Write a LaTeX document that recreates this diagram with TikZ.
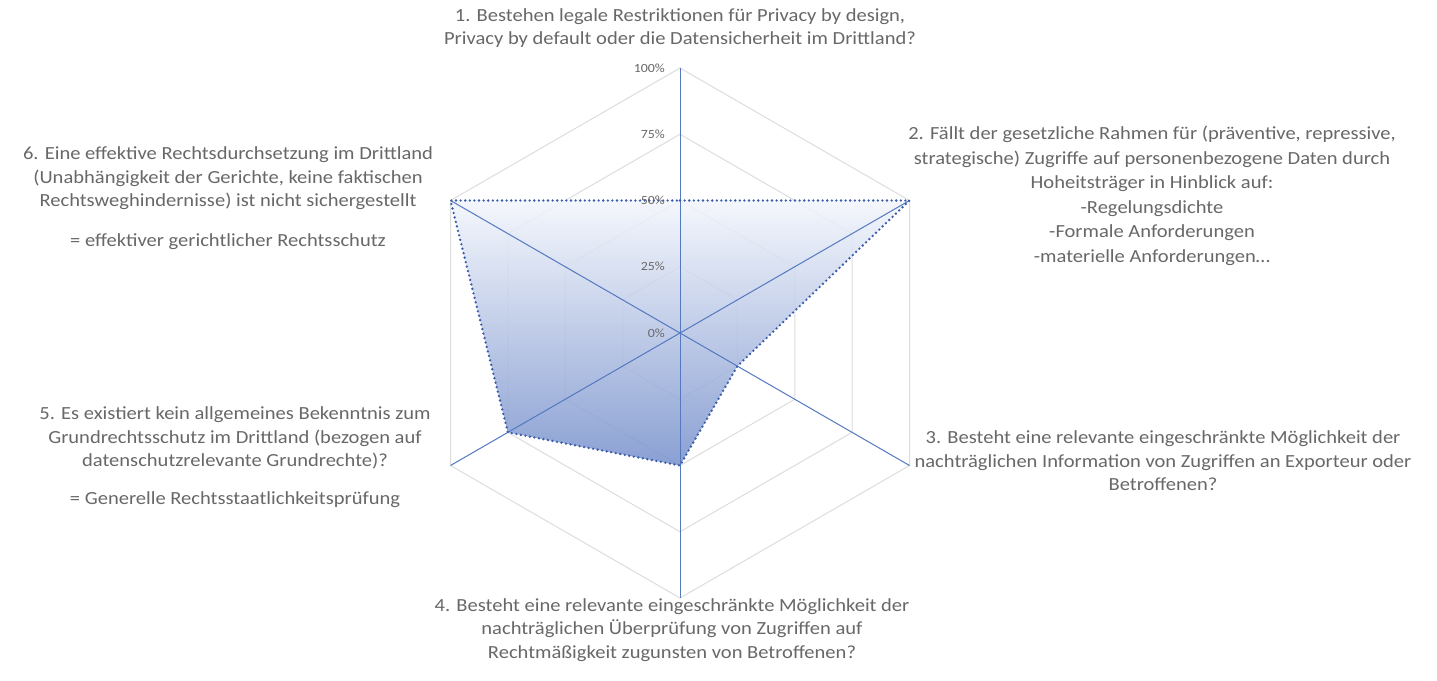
\documentclass[tikz,border=0pt]{standalone}
\usepackage{fontspec}
\setmainfont{Carlito}[FakeStretch=1.11]
\definecolor{txtgray}{HTML}{686868}
\definecolor{gridgray}{HTML}{DDDDDD}
\definecolor{spokeblue}{HTML}{5479C0}
\definecolor{serblue}{HTML}{3A5BA8}
\definecolor{filltop}{HTML}{F3F6FC}
\definecolor{fillbot}{HTML}{7690CC}
\begin{document}
\begin{tikzpicture}[x=1pt,y=-1pt,
  lbl/.style={text=txtgray, align=center, font=\fontsize{18.5}{23.5}\selectfont, inner sep=0pt},
  pct/.style={text=txtgray, font=\fontsize{12.5}{14}\selectfont, anchor=east, inner sep=0pt},
  gridline/.style={draw=gridgray, line width=1pt},
  spoke/.style={draw=spokeblue, line width=1pt},
  series/.style={draw=serblue, line width=2.6pt, line cap=round, dash pattern=on 0pt off 4.6pt}]
\useasboundingbox (0,0) rectangle (1437,680);
\fill[white] (0,0) rectangle (1437,680);
\begin{scope}[shift={(680,333)}]
  \coordinate (c) at (0,0);
  \foreach \k/\a in {1/-90,2/-30,3/30,4/90,5/150,6/210}
    \coordinate (v\k) at (\a:265);
  % grid
  \foreach \r in {66.25,132.5,198.75,265}
    \draw[gridline] (-90:\r) -- (-30:\r) -- (30:\r) -- (90:\r) -- (150:\r) -- (210:\r) -- cycle;
  % data points
  \coordinate (p1) at (-90:132.5);
  \coordinate (p2) at (-30:265);
  \coordinate (p3) at (30:66.25);
  \coordinate (p4) at (90:132.5);
  \coordinate (p5) at (150:198.75);
  \coordinate (p6) at (210:265);
  \shade[top color=filltop, bottom color=fillbot, opacity=0.85]
    (p1) -- (p2) -- (p3) -- (p4) -- (p5) -- (p6) -- cycle;
  % spokes
  \foreach \k in {1,...,6} \draw[spoke] (c) -- (v\k);
  % series outline
  \draw[series] (p1) -- (p2) -- (p3) -- (p4) -- (p5) -- (p6) -- cycle;
  % percent labels
  \node[pct] (l0) at (-15,0) {0\%};
  \node[pct] (l25) at (-15,-66.25) {25\%};
  \node[pct] (l50) at (-15,-132.5) {50\%};
  \node[pct] (l75) at (-15,-198.75) {75\%};
  \node[pct] (l100) at (-15,-265) {100\%};
\end{scope}
\node[lbl] (t1) at (680,28) {1. Bestehen legale Restriktionen für Privacy by design,\\Privacy by default oder die Datensicherheit im Drittland?};
\node[lbl, font=\fontsize{18.5}{24.5}\selectfont] (t2) at (1152,196) {2. Fällt der gesetzliche Rahmen für (präventive, repressive,\\strategische) Zugriffe auf personenbezogene Daten durch\\Hoheitsträger in Hinblick auf:\\-Regelungsdichte\\-Formale Anforderungen\\-materielle Anforderungen…};
\node[lbl] (t3) at (1163,461) {3. Besteht eine relevante eingeschränkte Möglichkeit der\\nachträglichen Information von Zugriffen an Exporteur oder\\Betroffenen?};
\node[lbl] (t4) at (672,630) {4. Besteht eine relevante eingeschränkte Möglichkeit der\\nachträglichen Überprüfung von Zugriffen auf\\Rechtmäßigkeit zugunsten von Betroffenen?};
\node[lbl] (t5) at (235,457) {5. Es existiert kein allgemeines Bekenntnis zum\\Grundrechtsschutz im Drittland (bezogen auf\\datenschutzrelevante Grundrechte)?\\[14pt]= Generelle Rechtsstaatlichkeitsprüfung};
\node[lbl] (t6) at (228,198) {6. Eine effektive Rechtsdurchsetzung im Drittland\\(Unabhängigkeit der Gerichte, keine faktischen\\Rechtsweghindernisse) ist nicht sichergestellt\\[16pt]= effektiver gerichtlicher Rechtsschutz};
\end{tikzpicture}
\end{document}
